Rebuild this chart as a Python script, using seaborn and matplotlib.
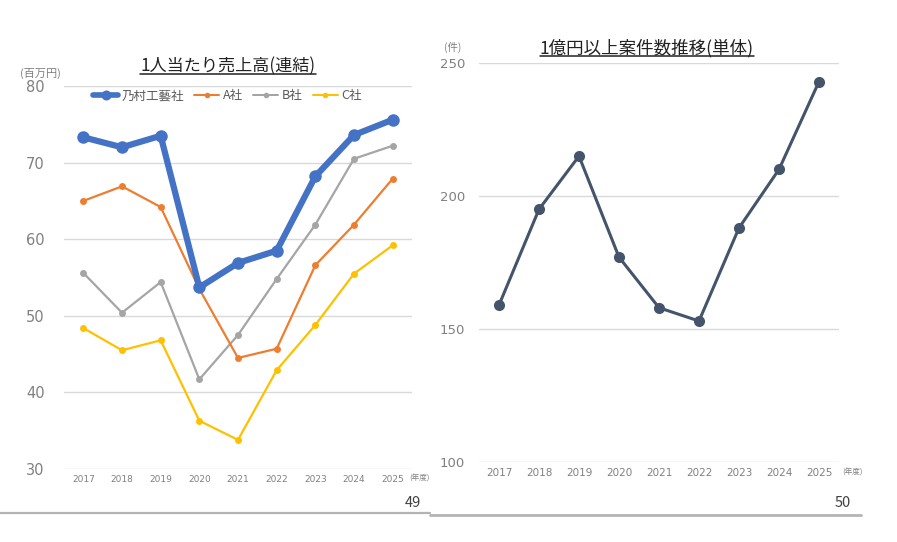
import pandas as pd
import seaborn as sns
import matplotlib
matplotlib.use("Agg")
import matplotlib.pyplot as plt
from matplotlib.lines import Line2D

# data
years = ["2017", "2018", "2019", "2020", "2021", "2022", "2023", "2024", "2025"]
nomura = [73.3, 72.0, 73.5, 53.7, 56.9, 58.5, 68.2, 73.6, 75.6]
company_a = [65.0, 66.9, 64.2, 53.5, 44.5, 45.7, 56.6, 61.9, 67.9]
company_b = [55.6, 50.4, 54.4, 41.7, 47.5, 54.8, 61.9, 70.5, 72.2]
company_c = [48.4, 45.5, 46.8, 36.3, 33.8, 42.9, 48.8, 55.5, 59.2]
series_names = ["乃村工藝社", "A社", "B社", "C社"]
deals = [159, 195, 215, 177, 158, 153, 188, 210, 243]

sns.set_theme(style="white")
plt.rcParams['font.family'] = ['Noto Sans CJK JP', 'DejaVu Sans']

W, H = 897, 542
fig = plt.figure(figsize=(W / 100, H / 100), dpi=100)


def px_axes(x0, y0, x1, y1):
    # pixel box (top-left origin) -> figure fraction
    return fig.add_axes([x0 / W, 1 - y1 / H, (x1 - x0) / W, (y1 - y0) / H])


def style_axes(ax, ymin, ymax, step, ysize, xsize, ypad):
    ax.set_xlim(-0.5, len(years) - 0.5)
    ax.set_ylim(ymin, ymax)
    ax.set_yticks(range(ymin, ymax + 1, step))
    ax.set_xticks(range(len(years)))
    ax.set_xticklabels(years)
    ax.yaxis.grid(True, color="#d9d9d9", lw=1)
    ax.xaxis.grid(False)
    for s in ax.spines.values():
        s.set_visible(False)
    ax.tick_params(axis="y", labelsize=ysize, labelcolor="#808080", length=0, pad=ypad)
    ax.tick_params(axis="x", labelsize=xsize, labelcolor="#808080", length=0, pad=4)
    for lab in ax.get_xticklabels() + ax.get_yticklabels():
        lab.set_family("DejaVu Sans")
    ax.set_xlabel("")
    ax.set_ylabel("")


# ---- left chart: sales per person
df = pd.DataFrame({"x": list(range(len(years))) * 4,
                   "value": nomura + company_a + company_b + company_c,
                   "company": [n for n in series_names for _ in years]})
palette = {"乃村工藝社": "#4472C4", "A社": "#ED7D31", "B社": "#A5A5A5", "C社": "#FFC000"}
widths = {"乃村工藝社": 4.5, "A社": 1.6, "B社": 1.6, "C社": 1.6}
msizes = {"乃村工藝社": 9, "A社": 5, "B社": 5, "C社": 5}

ax1 = px_axes(64, 86, 412, 469)
for name in series_names[::-1]:
    sub = df[df["company"] == name]
    sns.lineplot(data=sub, x="x", y="value", ax=ax1, color=palette[name],
                 lw=widths[name], marker="o", ms=msizes[name],
                 markeredgewidth=0, label=name, legend=False, clip_on=False)
style_axes(ax1, 30, 80, 10, 10.5, 6.5, 14)

handles = [Line2D([], [], color=palette[n], lw=widths[n] * 0.9, marker="o",
                  ms=msizes[n] * 0.8, markeredgewidth=0) for n in series_names]
ax1.legend(handles, series_names, ncol=4, loc="center", bbox_to_anchor=(0.47, 0.975),
           frameon=False, fontsize=9, handlelength=2.0, handletextpad=0.3,
           columnspacing=0.8, labelcolor="#595959")

# ---- right chart: deals over 100 million yen
ax2 = px_axes(479, 63, 839, 462)
sns.lineplot(x=list(range(len(years))), y=deals, ax=ax2, color="#44546A", lw=2.2,
             marker="o", ms=8, markeredgewidth=0, clip_on=False)
style_axes(ax2, 100, 250, 50, 9.5, 7.5, 10)

# ---- text and decorations
t1 = fig.text(228 / W, 1 - 66 / H, "1人当たり売上高(連結)", ha="center", va="center",
              fontsize=12.3, color="#222222")
t2 = fig.text(647 / W, 1 - 48 / H, "1億円以上案件数推移(単体)", ha="center", va="center",
              fontsize=12.6, color="#222222")
fig.text(40 / W, 1 - 73 / H, "(百万円)", ha="center", va="center", fontsize=8, color="#808080")
fig.text(453 / W, 1 - 47 / H, "(件)", ha="center", va="center", fontsize=7.5, color="#808080")
fig.text(419 / W, 1 - 479 / H, "(年度)", ha="center", va="center", fontsize=5.5, color="#808080")
fig.text(852 / W, 1 - 473 / H, "(年度)", ha="center", va="center", fontsize=5.5, color="#808080")
fig.text(413 / W, 1 - 503 / H, "49", ha="center", va="center", fontsize=10.5, color="#404040")
fig.text(843 / W, 1 - 503 / H, "50", ha="center", va="center", fontsize=10.5, color="#404040")

# underline the titles
fig.canvas.draw()
renderer = fig.canvas.get_renderer()
for t in (t1, t2):
    bb = t.get_window_extent(renderer).transformed(fig.transFigure.inverted())
    fig.add_artist(Line2D([bb.x0, bb.x1], [bb.y0 + 0.002, bb.y0 + 0.002],
                          color="#222222", lw=1.1, transform=fig.transFigure))

# page separators
fig.add_artist(Line2D([0, 430 / W], [1 - 513 / H] * 2, color="#b4b4b4", lw=1.6,
                      transform=fig.transFigure))
fig.add_artist(Line2D([430 / W, 861 / W], [1 - 515 / H] * 2, color="#b4b4b4", lw=2.0,
                      transform=fig.transFigure))

fig.savefig("out.png", dpi=100)
